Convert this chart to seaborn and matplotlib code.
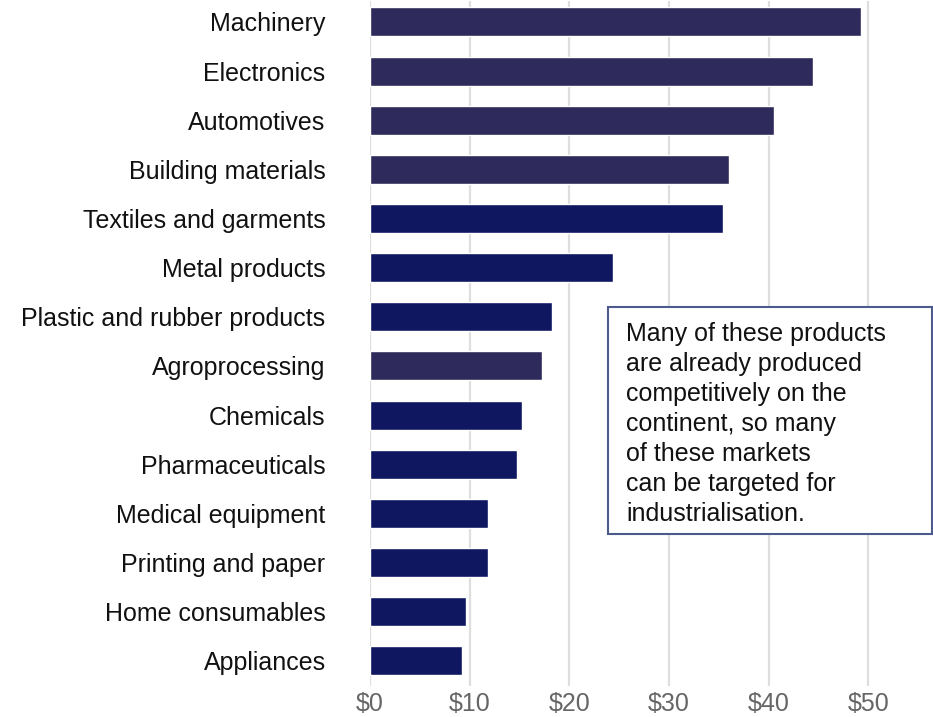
import matplotlib
matplotlib.use("Agg")
import matplotlib.pyplot as plt
import seaborn as sns
import pandas as pd
from matplotlib.patches import Rectangle

categories = ["Machinery", "Electronics", "Automotives", "Building materials",
              "Textiles and garments", "Metal products", "Plastic and rubber products",
              "Agroprocessing", "Chemicals", "Pharmaceuticals", "Medical equipment",
              "Printing and paper", "Home consumables", "Appliances"]
values = [49.3, 44.5, 40.5, 36.0, 35.4, 24.4, 18.3, 17.3, 15.3, 14.8, 11.8, 11.8, 9.6, 9.2]
groups = ["a", "a", "a", "a", "b", "b", "b", "a", "b", "b", "b", "b", "b", "b"]
tick_values = [0, 10, 20, 30, 40, 50]
tick_labels = ["$0", "$10", "$20", "$30", "$40", "$50"]
note = ("Many of these products\nare already produced\ncompetitively on the\n"
        "continent, so many\nof these markets\ncan be targeted for\nindustrialisation.")

group_colors = {"a": "#2e2a5c", "b": "#0e1760"}
df = pd.DataFrame({"category": categories, "value": values, "group": groups})
palette = {c: group_colors[g] for c, g in zip(categories, groups)}

sns.set_theme(style="white")
plt.rcParams["font.family"] = ["Liberation Sans", "DejaVu Sans"]

fig = plt.figure(figsize=(9.33, 7.17), dpi=100)
ax = fig.add_axes([0.3966, 0.0432, 0.9850 - 0.3966, 0.9990 - 0.0432])

sns.barplot(data=df, y="category", x="value", hue="category", palette=palette,
            order=categories, orient="h", width=0.59, legend=False, ax=ax,
            saturation=1, zorder=3)

ax.set_xlim(0, 55.1)
ax.set_ylim(13.51, -0.43)
ax.set_xticks(tick_values)
ax.set_xticklabels(tick_labels, color="#666666", fontsize=18)
ax.tick_params(axis="x", length=0, pad=4)
ax.tick_params(axis="y", length=0, pad=32, labelsize=18, labelcolor="#111111")
ax.set_xlabel("")
ax.set_ylabel("")
ax.grid(axis="x", color="#dedede", linewidth=1.6, zorder=0)
ax.set_axisbelow(True)
for s in ax.spines.values():
    s.set_visible(False)

# annotation box
x0, x1 = 608 / 933, 932 / 933
y0, y1 = 1 - 534 / 717, 1 - 307 / 717
fig.patches.append(Rectangle((x0, y0), x1 - x0, y1 - y0, transform=fig.transFigure,
                             facecolor="white", edgecolor="#4d5b8c", linewidth=1.5,
                             zorder=5))
fig.text(626 / 933, 1 - 322 / 717, note, ha="left", va="top", fontsize=18,
         color="#111111", linespacing=1.32, zorder=6)

fig.savefig("out.png", dpi=100)
